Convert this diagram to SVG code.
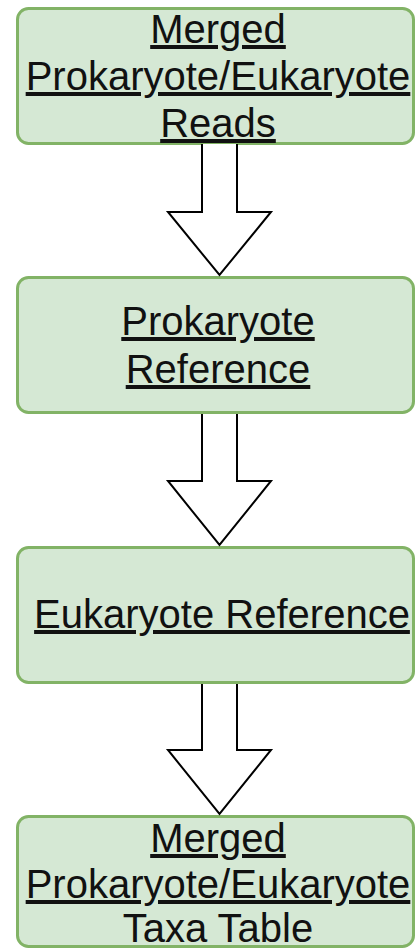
<svg xmlns="http://www.w3.org/2000/svg" width="415" height="949" viewBox="0 0 415 949">
<style>
.box{fill:#d5e8d4;stroke:#82b366;stroke-width:3}
.lbl{font-family:"Liberation Sans",Arial,sans-serif;font-size:40px;fill:#111;text-anchor:middle}
.u{text-decoration:underline}
.arr{fill:#fff;stroke:#000;stroke-width:2;stroke-linejoin:miter}
</style>
<rect width="415" height="949" fill="#fff"/>
<g id="n1">
<rect class="box" x="17.5" y="8.5" width="396" height="135" rx="11"/>
<text class="lbl u"><tspan x="218" y="43">Merged</tspan><tspan x="218" y="90">Prokaryote/Eukaryote</tspan><tspan x="218" y="137">Reads</tspan></text>
</g>
<g id="n2">
<rect class="box" x="17.5" y="277.5" width="396" height="135" rx="11"/>
<text class="lbl u"><tspan x="218" y="335">Prokaryote</tspan><tspan x="218" y="383">Reference</tspan></text>
</g>
<g id="n3">
<rect class="box" x="17.5" y="547.5" width="396" height="135" rx="11"/>
<text class="lbl u" x="222" y="628">Eukaryote Reference</text>
</g>
<g id="n4">
<rect class="box" x="17.5" y="816.5" width="396" height="130" rx="11"/>
<text class="lbl u"><tspan x="218" y="852">Merged</tspan><tspan x="218" y="898">Prokaryote/Eukaryote</tspan></text>
<text class="lbl" x="218" y="942">Taxa Table</text>
</g>
<g id="connectors">
<path class="arr" d="M202,144 L202,212 L168,212 L219.5,275 L271,212 L237,212 L237,144"/>
<path class="arr" d="M202,414 L202,481 L168,481 L219.5,545 L271,481 L237,481 L237,414"/>
<path class="arr" d="M202,684 L202,750 L168,750 L219.5,814 L271,750 L237,750 L237,684"/>
</g>
</svg>
